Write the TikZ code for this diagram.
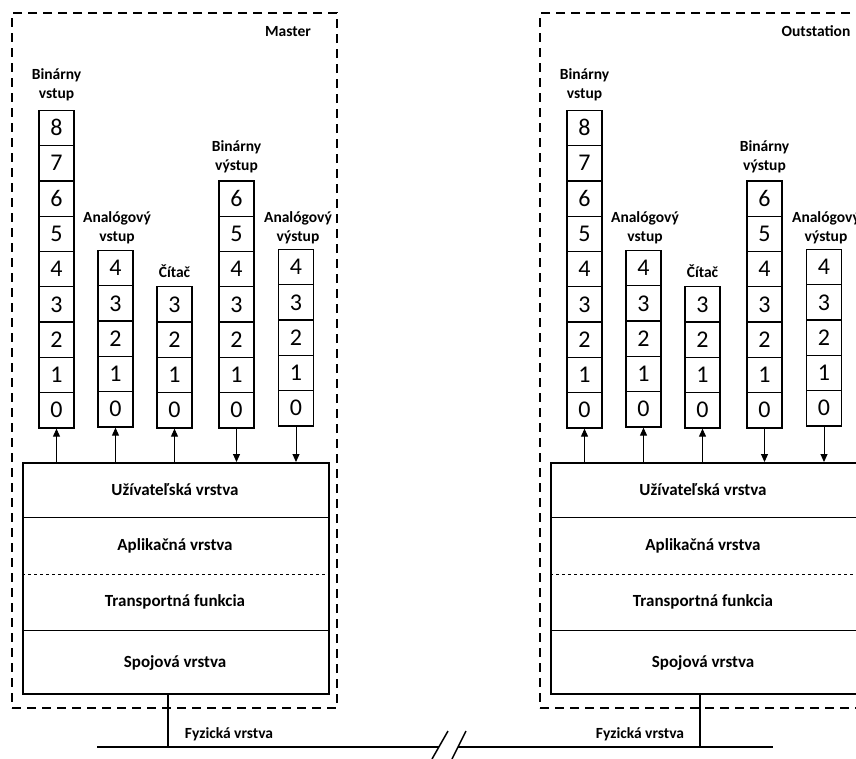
\documentclass[tikz,border=0pt]{standalone}
\usepackage{fontspec}
\setmainfont{Carlito}
\usetikzlibrary{arrows.meta}
\tikzset{
  cell/.style={draw, line width=1.3pt, minimum width=35pt, minimum height=35.3pt, inner sep=0pt,
    font=\fontsize{24}{24}\selectfont, text height=15.2pt, text depth=0pt},
  lbl/.style={font=\fontsize{15.5}{19}\selectfont\bfseries, align=center, anchor=base, inner sep=0pt},
  layer/.style={font=\fontsize{17}{19}\selectfont\bfseries, anchor=base, inner sep=0pt},
  frame/.style={draw, line width=2pt, dash pattern=on 9pt off 6pt, inner sep=0pt},
  stackbox/.style={draw, line width=2pt, inner sep=0pt},
  sep/.style={line width=0.8pt},
  arr/.style={line width=1pt, -{Triangle[length=8pt,width=7pt]}},
  bus/.style={line width=2pt},
}
\newcommand\mystack[4]{%
  \foreach \i in {0,...,#4}{\node[cell] (#1\i) at (#2,{#3-17.65-\i*35.3}) {\i};}}
\newcommand\drawpanel[2]{%
  \node[frame, minimum width=325pt, minimum height=695pt] (#1frame) at (174.5,360.5) {};
  \node[lbl] (#1name) at (288,36) {#2};
  \mystack{#1bi}{56.5}{428}{8}
  \mystack{#1ai}{115.5}{427}{4}
  \mystack{#1ct}{174.5}{428}{3}
  \mystack{#1bo}{236.5}{428}{6}
  \mystack{#1ao}{296}{426}{4}
  \node[lbl] (#1bil) at (56.5,98.5) {Binárny\\vstup};
  \node[lbl] (#1ail) at (117,241) {Analógový\\vstup};
  \node[lbl] (#1ctl) at (174.5,277) {Čítač};
  \node[lbl] (#1bol) at (236.5,170) {Binárny\\výstup};
  \node[lbl] (#1aol) at (298,241) {Analógový\\výstup};
  \node[stackbox, minimum width=306pt, minimum height=231pt] (#1box) at (176,578.5) {};
  \coordinate (#1s1) at (176,517);
  \coordinate (#1s2) at (176,574);
  \coordinate (#1s3) at (176,630);
  \draw[sep] (#1box.west |- #1s1) -- (#1box.east |- #1s1);
  \draw[sep, dashed] (#1box.west |- #1s2) -- (#1box.east |- #1s2);
  \draw[sep] (#1box.west |- #1s3) -- (#1box.east |- #1s3);
  \node[layer] (#1l1) at (175,495) {Užívateľská vrstva};
  \node[layer] (#1l2) at (175,550) {Aplikačná vrstva};
  \node[layer] (#1l3) at (175,606) {Transportná funkcia};
  \node[layer] (#1l4) at (175,667) {Spojová vrstva};
  \draw[arr] (#1bi0.south |- #1box.north) -- (#1bi0.south);
  \draw[arr] (#1ai0.south |- #1box.north) -- (#1ai0.south);
  \draw[arr] (#1ct0.south |- #1box.north) -- (#1ct0.south);
  \draw[arr] (#1bo0.south) -- (#1bo0.south |- #1box.north);
  \draw[arr] (#1ao0.south) -- (#1ao0.south |- #1box.north);
}
\begin{document}
\begin{tikzpicture}[x=1pt, y=-1pt]
  \useasboundingbox (0,0) rectangle (856,758);
  \clip (0,0) rectangle (856,758);
  \drawpanel{m}{Master}
  \begin{scope}[xshift=528pt]
    \drawpanel{o}{Outstation}
  \end{scope}
  % bus
  \coordinate (busL) at (97,747);
  \coordinate (brkL) at (439,747);
  \coordinate (brkR) at (458,747);
  \coordinate (busR) at (773,747);
  \coordinate (mtap) at (168,747);
  \coordinate (otap) at (700,747);
  \coordinate (k1a) at (432,759);
  \coordinate (k1b) at (448,731);
  \coordinate (k2a) at (452,759);
  \coordinate (k2b) at (466,731);
  \draw[bus] (busL) -- (brkL);
  \draw[bus] (brkR) -- (busR);
  \draw[line width=1.5pt] (k1a) -- (k1b);
  \draw[line width=1.5pt] (k2a) -- (k2b);
  \draw[bus] (mbox.south -| mtap) -- (mtap);
  \draw[bus] (obox.south -| otap) -- (otap);
  \node[lbl] (mphy) at (229,738) {Fyzická vrstva};
  \node[lbl] (ophy) at (640,738) {Fyzická vrstva};
\end{tikzpicture}
\end{document}
